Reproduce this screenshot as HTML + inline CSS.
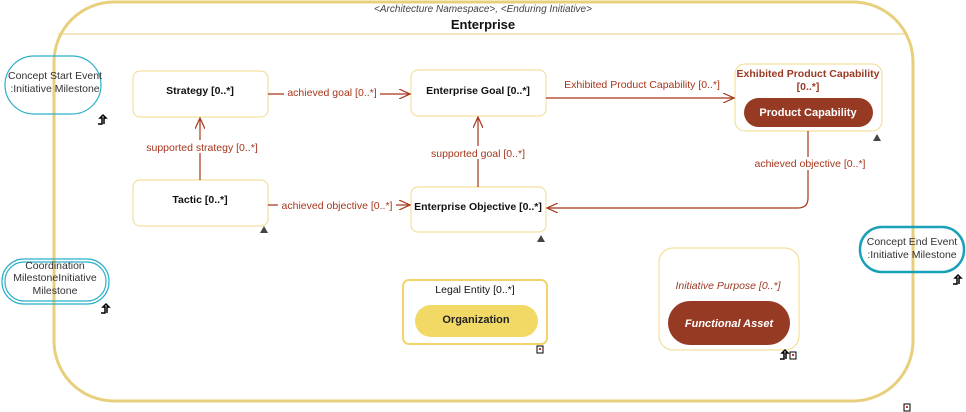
<!DOCTYPE html>
<html><head><meta charset="utf-8"><style>
body{margin:0;background:#fff;width:966px;height:412px;overflow:hidden}
svg{display:block}
text{font-family:"Liberation Sans",sans-serif}
</style></head><body>
<svg width="966" height="412" viewBox="0 0 966 412" xmlns="http://www.w3.org/2000/svg">
<defs>
<marker id="ar" markerWidth="12" markerHeight="10" refX="11" refY="5" orient="auto" markerUnits="userSpaceOnUse">
<path d="M0,0 L11,5 L0,10" fill="none" stroke="#a6361c" stroke-width="1.2"/></marker>
</defs>
<rect x="54" y="2" width="859" height="399" rx="60" fill="none" stroke="#e8cf7c" stroke-width="3"/>
<line x1="58" y1="34" x2="907" y2="34" stroke="#e8cf7c" stroke-width="1"/>
<text x="483" y="12" font-size="10" font-style="italic" fill="#444" text-anchor="middle">&lt;Architecture Namespace&gt;, &lt;Enduring Initiative&gt;</text>
<text x="483" y="29" font-size="13" font-weight="bold" fill="#111" text-anchor="middle">Enterprise</text>

<rect x="5" y="56" width="96" height="58" rx="29" fill="none" stroke="#2ab0c8" stroke-width="1.2"/>
<text x="55" y="79" font-size="10.5" fill="#333" text-anchor="middle">Concept Start Event</text>
<text x="55" y="92" font-size="10.5" fill="#333" text-anchor="middle">:Initiative Milestone</text>
<path d="M98,124 H102 V118 H100 L103,115 L106,118 H104 V124" fill="none" stroke="#000" stroke-width="1.5"/>

<rect x="2" y="259" width="107" height="45" rx="22" fill="none" stroke="#2ab0c8" stroke-width="1.2"/>
<rect x="5" y="262" width="101" height="39" rx="19" fill="none" stroke="#2ab0c8" stroke-width="1.2"/>
<text x="55" y="269" font-size="10.5" fill="#333" text-anchor="middle">Coordination</text>
<text x="55" y="281" font-size="10.5" fill="#333" text-anchor="middle">MilestoneInitiative</text>
<text x="55" y="294" font-size="10.5" fill="#333" text-anchor="middle">Milestone</text>
<path d="M101,313 H105 V307 H103 L106,304 L109,307 H107 V313" fill="none" stroke="#000" stroke-width="1.5"/>

<rect x="860" y="227" width="104" height="45" rx="22" fill="none" stroke="#1aa0b8" stroke-width="2.5"/>
<text x="912" y="245" font-size="10.5" fill="#333" text-anchor="middle">Concept End Event</text>
<text x="912" y="258" font-size="10.5" fill="#333" text-anchor="middle">:Initiative Milestone</text>
<path d="M953,284 H957 V278 H955 L958,275 L961,278 H959 V284" fill="none" stroke="#000" stroke-width="1.5"/>

<g fill="#fff" stroke="#f2d98a" stroke-width="1">
<rect x="133" y="71" width="135" height="46" rx="7"/>
<rect x="411" y="70" width="135" height="46" rx="7"/>
<rect x="133" y="180" width="135" height="46" rx="7"/>
<rect x="411" y="187" width="135" height="45" rx="7"/>
<rect x="735" y="64" width="147" height="67" rx="10"/>
<rect x="659" y="248" width="140" height="102" rx="14"/>
</g>
<rect x="403" y="280" width="144" height="64" rx="6" fill="#fff" stroke="#f2d46a" stroke-width="2"/>

<g font-size="10.5" font-weight="bold" fill="#111" text-anchor="middle">
<text x="200" y="94">Strategy [0..*]</text>
<text x="478" y="94">Enterprise Goal [0..*]</text>
<text x="200" y="203">Tactic [0..*]</text>
<text x="478" y="210">Enterprise Objective [0..*]</text>
<text x="475" y="293" font-weight="normal">Legal Entity [0..*]</text>
</g>
<text x="808" y="77" font-size="10.5" font-weight="bold" fill="#9a3a24" text-anchor="middle">Exhibited Product Capability</text>
<text x="808" y="90" font-size="10.5" font-weight="bold" fill="#9a3a24" text-anchor="middle">[0..*]</text>
<rect x="744" y="98" width="129" height="29" rx="14.5" fill="#973a24"/>
<text x="808" y="116" font-size="11" font-weight="bold" fill="#fff" text-anchor="middle">Product Capability</text>

<rect x="415" y="305" width="123" height="32" rx="16" fill="#f2d966"/>
<text x="476" y="323" font-size="11" font-weight="bold" fill="#222" text-anchor="middle">Organization</text>

<text x="728" y="289" font-size="10.5" font-style="italic" fill="#9a3a24" text-anchor="middle">Initiative Purpose [0..*]</text>
<rect x="668" y="301" width="122" height="44" rx="22" fill="#973a24"/>
<text x="729" y="327" font-size="11" font-weight="bold" font-style="italic" fill="#fff" text-anchor="middle">Functional Asset</text>

<g stroke="#a6361c" stroke-width="1.2" fill="none" marker-end="url(#ar)">
<line x1="268" y1="94" x2="410" y2="94"/>
<line x1="268" y1="205" x2="410" y2="205"/>
<line x1="200" y1="180" x2="200" y2="118"/>
<line x1="478" y1="187" x2="478" y2="117"/>
<line x1="546" y1="98" x2="734" y2="98"/>
<path d="M808,131 V198 Q808,208 798,208 H547"/>
</g>
<g font-size="10.5" fill="#a6361c" text-anchor="middle">
<rect x="284" y="86" width="96" height="13" fill="#fff"/>
<text x="332" y="96">achieved goal [0..*]</text>
<rect x="278" y="198" width="118" height="13" fill="#fff"/>
<text x="337" y="209">achieved objective [0..*]</text>
<rect x="142" y="140" width="120" height="13" fill="#fff"/>
<text x="202" y="151">supported strategy [0..*]</text>
<rect x="430" y="146" width="98" height="13" fill="#fff"/>
<text x="478" y="157">supported goal [0..*]</text>
<text x="642" y="88">Exhibited Product Capability [0..*]</text>
<rect x="752" y="157" width="116" height="13" fill="#fff"/>
<text x="810" y="167">achieved objective [0..*]</text>
</g>

<g fill="#444">
<path d="M260,233 L264,226 L268,233 Z"/>
<path d="M537,242 L541,235 L545,242 Z"/>
<path d="M873,141 L877,134 L881,141 Z"/>
</g>
<path d="M780,359 H784 V353 H782 L785,350 L788,353 H786 V359" fill="none" stroke="#000" stroke-width="1.5"/>
<g fill="#fff" stroke="#000" stroke-width="1">
<rect x="537" y="346" width="6" height="7"/>
<rect x="790" y="352" width="6" height="7"/>
<rect x="904" y="404" width="6" height="7"/>
</g>
<g fill="#c33"><rect x="539" y="348" width="2" height="2"/><rect x="792" y="354" width="2" height="2"/><rect x="906" y="406" width="2" height="2"/></g>
</svg>
</body></html>
